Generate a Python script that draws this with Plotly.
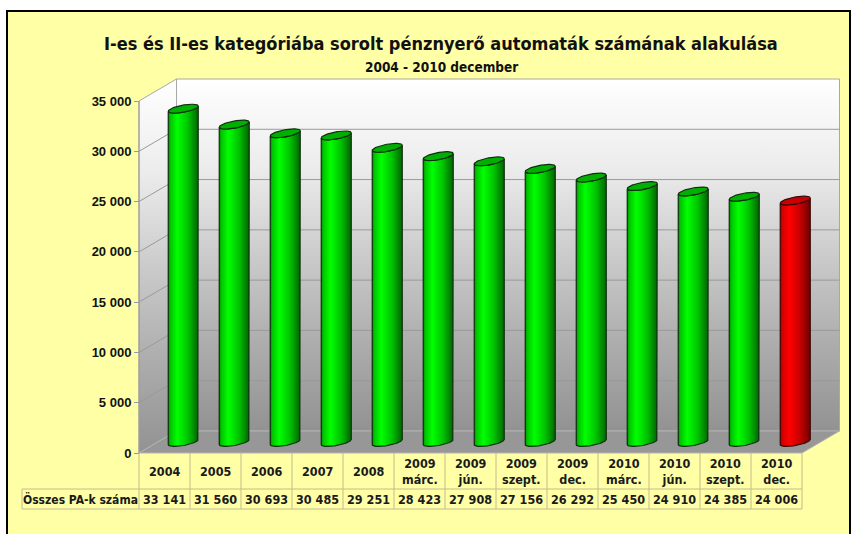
import numpy as np
import plotly.graph_objects as go

# ---------------- data ----------------
categories = ["2004", "2005", "2006", "2007", "2008",
              "2009<br>márc.", "2009<br>jún.", "2009<br>szept.", "2009<br>dec.",
              "2010<br>márc.", "2010<br>jún.", "2010<br>szept.", "2010<br>dec."]
values = [33141, 31560, 30693, 30485, 29251, 28423, 27908, 27156, 26292,
          25450, 24910, 24385, 24006]
highlight = [False] * 12 + [True]
row_label = "Összes PA-k száma"
y_tick_vals = [0, 5000, 10000, 15000, 20000, 25000, 30000, 35000]
y_tick_text = ["0", "5 000", "10 000", "15 000", "20 000", "25 000", "30 000", "35 000"]
title = "I-es és II-es kategóriába sorolt pénznyerő automaták számának alakulása"
subtitle = "2004 - 2010 december"

# ---------------- geometry ----------------
W, H = 854, 534
X0PX, CATPX = 139, 51
Y0PX, YTPX, YMAX = 453, 101, 35000
PY = (Y0PX - YTPX) / YMAX
FONT = "DejaVu Sans Condensed, DejaVu Sans, Liberation Sans, sans-serif"


def xd(px):
    return -0.5 + (px - X0PX) / CATPX


def yd(py):
    return (Y0PX - py) / PY


def pp(py):
    return (H - py) / H


n = len(values)
XL, XR = -0.5, n - 0.5
DX, DY = 37.5 / CATPX, 22 / PY
R, A, K = 15 / CATPX, 3.6 / PY, 2.6 / PY

wall_cs = [[0, "#929292"], [0.25, "#adadad"], [0.5, "#cbcbcb"], [0.75, "#ececec"], [1, "#ffffff"]]

fig = go.Figure()

# side wall
fig.add_trace(go.Scatter(
    x=[XL, XL, XL + DX, XL + DX, XL], y=[0, YMAX, YMAX + DY, DY, 0],
    mode="lines", fill="toself", fillgradient=dict(type="vertical", colorscale=wall_cs),
    line=dict(color="#a8a8a8", width=1), hoverinfo="skip", showlegend=False))
# back wall
fig.add_trace(go.Scatter(
    x=[XL + DX, XR + DX, XR + DX, XL + DX, XL + DX], y=[DY, DY, YMAX + DY, YMAX + DY, DY],
    mode="lines", fill="toself", fillgradient=dict(type="vertical", colorscale=wall_cs),
    line=dict(color="#a8a8a8", width=1), hoverinfo="skip", showlegend=False))
# grid lines
gx, gy = [], []
for v in y_tick_vals[1:-1]:
    gx += [XL, XL + DX, XR + DX, None]
    gy += [v, v + DY, v + DY, None]
fig.add_trace(go.Scatter(x=gx, y=gy, mode="lines", line=dict(color="#9a9a9a", width=1),
                         hoverinfo="skip", showlegend=False))
# floor
fig.add_trace(go.Scatter(
    x=[XL, XR, XR + DX, XL + DX, XL], y=[0, 0, DY, DY, 0],
    mode="lines", fill="toself", fillcolor="#979797",
    line=dict(color="#b4b4b4", width=1), hoverinfo="skip", showlegend=False))
# front axis line
fig.add_trace(go.Scatter(x=[XL, XL], y=[0, YMAX], mode="lines",
                         line=dict(color="#9a9a9a", width=1), hoverinfo="skip", showlegend=False))

# cylinders
tf = np.linspace(np.pi, 2 * np.pi, 40)
ta = np.linspace(0, 2 * np.pi, 80)
green_cs = [[0, "#009000"], [0.08, "#00c800"], [0.3, "#00ff00"], [0.65, "#00c400"], [1, "#006400"]]
red_cs = [[0, "#a00000"], [0.08, "#d80000"], [0.3, "#ff0000"], [0.65, "#c80000"], [1, "#700000"]]
for i, v in enumerate(values):
    cx = i + DX / 2
    base = DY / 2
    top = v + DY / 2
    cs = red_cs if highlight[i] else green_cs
    topc = "#c80000" if highlight[i] else "#00b000"
    edge = "#3a0808" if highlight[i] else "#0f2f0f"
    bx = np.concatenate([cx + R * np.cos(tf), cx + R * np.cos(tf[::-1])])
    by = np.concatenate([top + A * np.sin(tf) + K * np.cos(tf),
                         base + A * np.sin(tf[::-1]) + K * np.cos(tf[::-1])])
    bx = np.append(bx, bx[0])
    by = np.append(by, by[0])
    fig.add_trace(go.Scatter(x=bx, y=by, mode="lines", fill="toself",
                             fillgradient=dict(type="horizontal", colorscale=cs),
                             line=dict(color=edge, width=1.2), hoverinfo="skip", showlegend=False))
    fig.add_trace(go.Scatter(x=cx + R * np.cos(ta), y=top + A * np.sin(ta) + K * np.cos(ta),
                             mode="lines", fill="toself", fillcolor=topc,
                             line=dict(color=edge, width=1.2), hoverinfo="skip", showlegend=False))

shapes = []
# yellow panel with black border
shapes.append(dict(type="rect", xref="paper", yref="paper", x0=7 / W, x1=850 / W,
                   y0=-0.05, y1=pp(11), fillcolor="#FFFFA6",
                   line=dict(color="black", width=2), layer="below"))
# table lines
tc = "#c4bc8c"
for k in range(n + 1):
    shapes.append(dict(type="line", xref="x", yref="paper", x0=XL + k, x1=XL + k,
                       y0=pp(453), y1=pp(509), line=dict(color=tc, width=1)))
for py in (489, 509):
    shapes.append(dict(type="line", xref="paper", yref="paper", x0=22 / W, x1=(X0PX + n * CATPX) / W,
                       y0=pp(py), y1=pp(py), line=dict(color=tc, width=1)))
shapes.append(dict(type="line", xref="paper", yref="paper", x0=22 / W, x1=22 / W,
                   y0=pp(489), y1=pp(509), line=dict(color=tc, width=1)))

ann = []
for i, c in enumerate(categories):
    ann.append(dict(x=i, xref="x", y=pp(471), yref="paper", text=c, showarrow=False,
                    font=dict(family=FONT, size=12.5, color="#1a1a1a", weight="bold"),
                    xanchor="center", yanchor="middle"))
    ann.append(dict(x=i, xref="x", y=pp(499), yref="paper",
                    text=f"{values[i]:,}".replace(",", " "), showarrow=False,
                    font=dict(family=FONT, size=12.5, color="#1a1a1a", weight="bold"),
                    xanchor="center", yanchor="middle"))
ann.append(dict(x=80 / W, xref="paper", y=pp(499), yref="paper", text=row_label, showarrow=False,
                font=dict(family=FONT, size=12, color="#1a1a1a", weight="bold"),
                xanchor="center", yanchor="middle"))
ann.append(dict(x=441 / W, xref="paper", y=pp(44), yref="paper", text=title, showarrow=False,
                font=dict(family=FONT, size=18, color="#111111", weight="bold"),
                xanchor="center", yanchor="middle"))
ann.append(dict(x=441 / W, xref="paper", y=pp(67), yref="paper", text=subtitle, showarrow=False,
                font=dict(family=FONT, size=13.5, color="#111111", weight="bold"),
                xanchor="center", yanchor="middle"))

fig.update_layout(
    width=W, height=H, margin=dict(l=0, r=0, t=0, b=0),
    paper_bgcolor="white", plot_bgcolor="rgba(0,0,0,0)",
    showlegend=False, shapes=shapes, annotations=ann,
    xaxis=dict(range=[xd(0), xd(W)], visible=False, fixedrange=True),
    yaxis=dict(range=[yd(H), yd(0)], anchor="free", position=X0PX / W,
               tickmode="array", tickvals=y_tick_vals, ticktext=y_tick_text,
               ticks="outside", ticklen=5, tickcolor="#9a9a9a",
               tickfont=dict(family="Liberation Sans, Arial, sans-serif", size=13,
                             color="#111111", weight="bold"),
               showgrid=False, zeroline=False, showline=False, fixedrange=True),
)

fig.write_html("out.html", config={"displayModeBar": False},
               post_script="document.body.style.margin='0';document.body.style.overflow='hidden';")
